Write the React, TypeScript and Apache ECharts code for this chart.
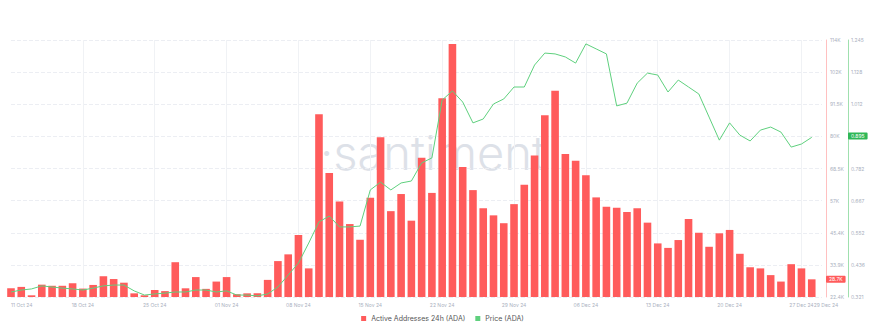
import React, { useEffect, useRef } from "react";
import * as echarts from "echarts";

const dates = [
  "11 Oct 24","12 Oct 24","13 Oct 24","14 Oct 24","15 Oct 24","16 Oct 24","17 Oct 24","18 Oct 24","19 Oct 24","20 Oct 24",
  "21 Oct 24","22 Oct 24","23 Oct 24","24 Oct 24","25 Oct 24","26 Oct 24","27 Oct 24","28 Oct 24","29 Oct 24","30 Oct 24",
  "31 Oct 24","01 Nov 24","02 Nov 24","03 Nov 24","04 Nov 24","05 Nov 24","06 Nov 24","07 Nov 24","08 Nov 24","09 Nov 24",
  "10 Nov 24","11 Nov 24","12 Nov 24","13 Nov 24","14 Nov 24","15 Nov 24","16 Nov 24","17 Nov 24","18 Nov 24","19 Nov 24",
  "20 Nov 24","21 Nov 24","22 Nov 24","23 Nov 24","24 Nov 24","25 Nov 24","26 Nov 24","27 Nov 24","28 Nov 24","29 Nov 24",
  "30 Nov 24","01 Dec 24","02 Dec 24","03 Dec 24","04 Dec 24","05 Dec 24","06 Dec 24","07 Dec 24","08 Dec 24","09 Dec 24",
  "10 Dec 24","11 Dec 24","12 Dec 24","13 Dec 24","14 Dec 24","15 Dec 24","16 Dec 24","17 Dec 24","18 Dec 24","19 Dec 24",
  "20 Dec 24","21 Dec 24","22 Dec 24","23 Dec 24","24 Dec 24","25 Dec 24","26 Dec 24","27 Dec 24","28 Dec 24","29 Dec 24",
];

// Active addresses, in thousands
const activeAddresses: (number | null)[] = [
  25.5, 26.0, 23.0, 26.8, 26.4, 26.4, 27.3, 25.4, 26.7, 29.8, 28.8, 27.5,
  23.7, 23.0, 24.9, 24.5, 34.8, 25.5, 29.5, 25.3, 27.9, 29.5, 23.4, 23.7, 23.7, 28.5,
  35.2, 37.6, 44.5, 32.6, 87.5, 66.6, 56.4, 48.4, 42.8, 57.8, 79.3, 53.0, 59.1, 49.6, 72.0, 59.5,
  93.2, 112.6, 68.7, 60.5, 54.0, 51.5, 48.7, 55.5, 62.4, 72.8, 87.2, 95.9, 73.4, 71.0, 65.8,
  57.9, 54.6, 54.2, 52.7, 54.0, 48.9, 41.5, 39.9, 42.7, 50.2, 45.3, 40.3, 45.1, 46.3, 37.8,
  33.0, 32.6, 30.2, 27.9, 34.1, 32.6, 28.7, null,
];

const price: (number | null)[] = [
  0.339, 0.346, 0.350, 0.361, 0.357, 0.353, 0.350, 0.346, 0.353, 0.361,
  0.364, 0.364, 0.343, 0.328, 0.332, 0.335, 0.339, 0.339, 0.346, 0.346,
  0.339, 0.343, 0.328, 0.328, 0.325, 0.332,
  0.357, 0.400, 0.443, 0.515, 0.591, 0.612, 0.573, 0.573, 0.576, 0.706,
  0.734, 0.706, 0.731, 0.738, 0.803, 0.821, 1.029, 1.062, 1.022, 0.947,
  0.961, 1.015, 1.033, 1.076, 1.076, 1.155, 1.198, 1.195, 1.184, 1.162,
  1.231, 1.213, 1.195, 1.008, 1.018, 1.090, 1.126, 1.119, 1.058, 1.101,
  1.076, 1.051, 0.968, 0.885, 0.947, 0.903, 0.882, 0.921, 0.932, 0.914,
  0.860, 0.871, 0.895, null,
];

const addrTicks = ["22.4K", "33.9K", "45.4K", "57K", "68.5K", "80K", "91.5K", "102K", "114K"];
const priceTicks = ["0.321", "0.436", "0.552", "0.667", "0.782", "0.898", "1.012", "1.128", "1.245"];

const ADDR_MIN = 22.4, ADDR_MAX = 114, ADDR_STEP = 11.45;
const PRICE_MIN = 0.321, PRICE_MAX = 1.245, PRICE_STEP = 0.1155;

const lastAddr = 28.7;
const lastPrice = 0.895;

const RED = "#ff5b5b";
const GREEN = "#5fd07e";
const LABEL = "#aab1c0";
const FONT = "Inter, 'Noto Sans', sans-serif";

export default function App() {
  const ref = useRef<HTMLDivElement>(null);
  useEffect(() => {
    if (!ref.current) return;
    const chart = echarts.init(ref.current, undefined, { renderer: "svg" });
    const lastIdx = dates.length - 1;
    const hiddenLine = { color: "rgba(255,255,255,0)", width: 1, type: "solid" };
    chart.setOption({
      animation: false,
      textStyle: { fontFamily: FONT },
      grid: { left: 11, right: 63, top: 40, bottom: 30, containLabel: false },
      legend: {
        top: 310,
        left: "center",
        icon: "rect",
        itemWidth: 5,
        itemHeight: 5,
        itemGap: 10,
        textStyle: { fontSize: 7, color: "#555", fontFamily: FONT },
        data: ["Active Addresses 24h (ADA)", "Price (ADA)"],
      },
      graphic: [
        {
          type: "text",
          left: 320,
          top: 129,
          silent: true,
          z: 0,
          style: {
            text: "·santiment",
            fontSize: 47,
            fontFamily: FONT,
            fontWeight: 300,
            fill: "#dde1e8",
          },
        },
      ],
      xAxis: [
        {
          type: "category",
          data: dates,
          boundaryGap: false,
          axisLine: { show: false },
          axisTick: { show: false },
          axisLabel: {
            interval: (i: number) => i % 7 === 0,
            fontSize: 5,
            color: LABEL,
            margin: 5,
            alignMinLabel: "left",
            hideOverlap: false,
          },
          splitLine: {
            show: true,
            interval: (i: number) => i % 7 === 0 && i !== 0,
            lineStyle: { color: "#f0f2f5", width: 1 },
          },
        },
        {
          type: "category",
          data: dates,
          position: "bottom",
          boundaryGap: false,
          axisLine: { show: false },
          axisTick: { show: false },
          splitLine: { show: false },
          axisLabel: {
            interval: (i: number) => i === lastIdx,
            fontSize: 5,
            color: LABEL,
            margin: 5,
            padding: [0, 0, 0, 8],
            showMaxLabel: true,
          },
        },
      ],
      yAxis: [
        {
          type: "value",
          position: "right",
          offset: 4,
          min: ADDR_MIN,
          max: ADDR_MAX,
          interval: ADDR_STEP,
          axisLine: { show: true, lineStyle: { color: "#ffc0c0", width: 1 } },
          axisTick: { show: false },
          axisLabel: {
            fontSize: 5,
            color: LABEL,
            margin: 4,
            formatter: (v: number) => addrTicks[Math.round((v - ADDR_MIN) / ADDR_STEP)] ?? "",
          },
          splitLine: { show: true, lineStyle: { color: "#eceef3", type: "dashed", width: 1 } },
        },
        {
          type: "value",
          position: "right",
          offset: 26,
          min: PRICE_MIN,
          max: PRICE_MAX,
          interval: PRICE_STEP,
          axisLine: { show: true, lineStyle: { color: "#9fe0ae", width: 1 } },
          axisTick: { show: false },
          axisLabel: {
            fontSize: 5,
            color: LABEL,
            margin: 3,
            formatter: (v: number) => priceTicks[Math.round((v - PRICE_MIN) / PRICE_STEP)] ?? "",
          },
          splitLine: { show: false },
        },
      ],
      series: [
        {
          name: "Active Addresses 24h (ADA)",
          type: "bar",
          xAxisIndex: 0,
          yAxisIndex: 0,
          data: activeAddresses,
          barWidth: 7.6,
          itemStyle: { color: RED },
          z: 2,
          markLine: {
            silent: true,
            symbol: ["none", "none"],
            lineStyle: hiddenLine,
            label: {
              show: true,
              position: "end",
              distance: 4,
              formatter: () => lastAddr + "K",
              color: "#fff",
              backgroundColor: RED,
              fontSize: 5,
              padding: [1, 3],
              borderRadius: 1,
            },
            emphasis: { disabled: true },
            data: [{ yAxis: lastAddr }],
          },
        },
        {
          name: "Price (ADA)",
          type: "line",
          xAxisIndex: 0,
          yAxisIndex: 1,
          data: price,
          showSymbol: false,
          symbol: "none",
          lineStyle: { color: GREEN, width: 1 },
          itemStyle: { color: GREEN },
          z: 3,
          markLine: {
            silent: true,
            symbol: ["none", "none"],
            lineStyle: hiddenLine,
            label: {
              show: true,
              position: "end",
              distance: 26,
              formatter: () => lastPrice.toFixed(3),
              color: "#fff",
              backgroundColor: "#2fb757",
              fontSize: 5,
              padding: [1, 3],
              borderRadius: 1,
            },
            emphasis: { disabled: true },
            data: [{ yAxis: lastPrice }],
          },
        },
      ],
    });
    return () => chart.dispose();
  }, []);
  return (
    <div
      ref={ref}
      style={{ position: "fixed", left: 0, top: 0, width: 885, height: 327, background: "#fff" }}
    />
  );
}
